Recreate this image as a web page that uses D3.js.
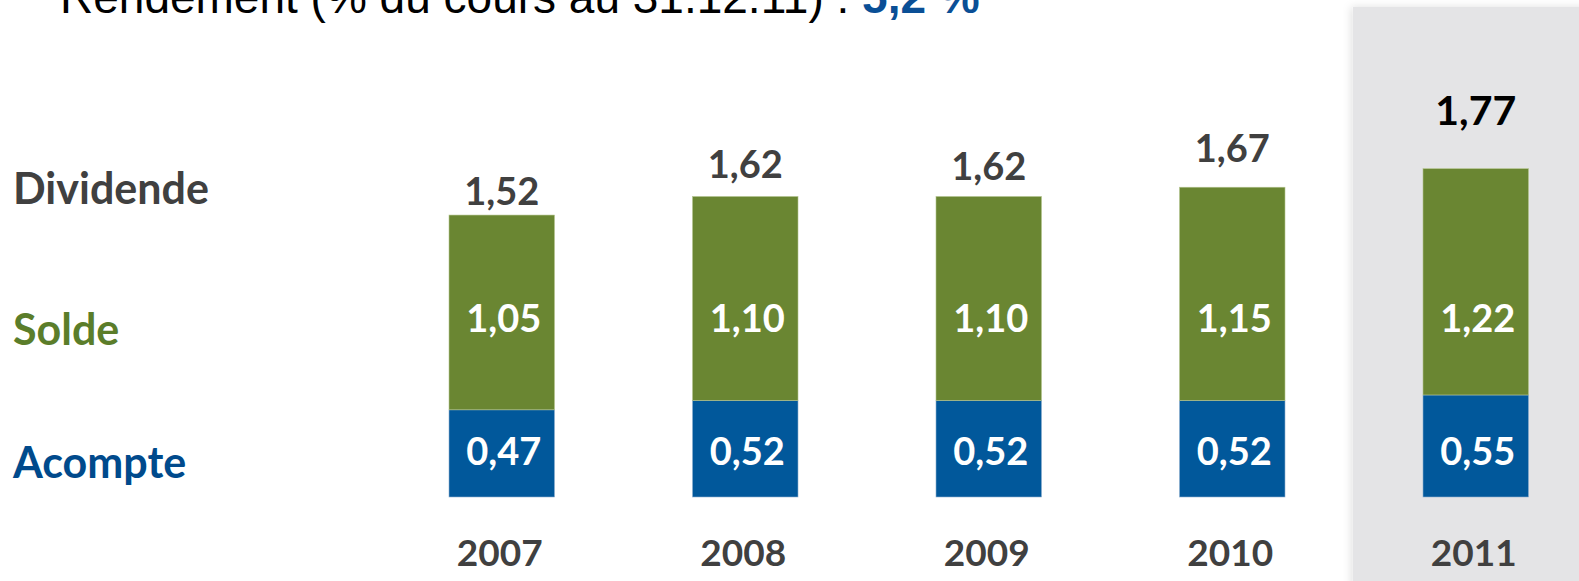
<!DOCTYPE html>
<html><head><meta charset="utf-8">
<script src="https://cdn.jsdelivr.net/npm/d3@7"></script>
<style>html,body{margin:0;padding:0;background:#fff;overflow:hidden}</style>
</head><body>
<svg id="c" width="1579" height="581"></svg>
<script>
// ---- data ----
const years = ["2007","2008","2009","2010","2011"];
const acompte = [0.47, 0.52, 0.52, 0.52, 0.55];
const solde = [1.05, 1.10, 1.10, 1.15, 1.22];
const dividende = [1.52, 1.62, 1.62, 1.67, 1.77];
const seriesNames = ["Dividende", "Solde", "Acompte"];
const titleText = "Rendement (% du cours au 31.12.11) : ";
const titleValue = "5,2 %";
const fmt = v => d3.format(".2f")(v).replace(".", ",");

// ---- layout / style ----
const W = 1579, H = 581;
const baseY = 497;
const GREEN = "#6a8632", BLUE = "#01589b", GRAY = "#404040";
const FONT = "Lato, 'Open Sans', sans-serif";
const totalGap = [10, 18, 16, 25, 44];

const svg = d3.select("#c");
const defs = svg.append("defs");
const f = defs.append("filter").attr("id","sh").attr("x","-10%").attr("y","-10%").attr("width","120%").attr("height","120%");
f.append("feDropShadow").attr("dx",-2).attr("dy",0).attr("stdDeviation",4).attr("flood-color","#000").attr("flood-opacity",0.12);

const x = d3.scaleBand().domain(years).range([449, 1528.5]).paddingInner(0.5667).paddingOuter(0);
const y = d3.scaleLinear().domain([0, 2]).range([baseY, baseY - 371]);

// highlight panel for last year
svg.append("rect").attr("x", x(years[4]) - 70).attr("y", 7).attr("width", 300).attr("height", H)
  .attr("fill", "#e4e4e6").attr("filter","url(#sh)");

// title (partially cut off at the top, as in the source)
const t = svg.append("text").attr("x", 60).attr("y", 13).attr("font-family","'Liberation Sans', Arial, sans-serif")
  .attr("font-size", 46).attr("fill", "#000");
t.append("tspan").text(titleText);
t.append("tspan").attr("fill","#0a4f96").attr("font-weight","bold").text(titleValue);

const data = years.map((yr,i)=>({yr, a:acompte[i], s:solde[i], d:dividende[i], i}));
const bw = x.bandwidth();

const g = svg.append("g");
// blue segments
g.selectAll("rect.a").data(data).join("rect").attr("class","a")
  .attr("x", d=>x(d.yr)).attr("width", bw)
  .attr("y", d=>y(d.a)).attr("height", d=>y(0)-y(d.a))
  .attr("fill", BLUE).attr("stroke","#8fb0cf").attr("stroke-width",0.6);
// green segments
g.selectAll("rect.s").data(data).join("rect").attr("class","s")
  .attr("x", d=>x(d.yr)).attr("width", bw)
  .attr("y", d=>y(d.a + d.s)).attr("height", d=>y(d.a)-y(d.a+d.s))
  .attr("fill", GREEN).attr("stroke","#b5c590").attr("stroke-width",0.6);

// inner labels
g.selectAll("text.s").data(data).join("text")
  .attr("x", d=>x(d.yr)+bw/2+2).attr("y", 332).attr("text-anchor","middle")
  .attr("font-family", FONT).attr("font-weight","bold").attr("font-size", 38).attr("fill","#fff")
  .text(d=>fmt(d.s));
g.selectAll("text.a").data(data).join("text")
  .attr("x", d=>x(d.yr)+bw/2+2).attr("y", 465).attr("text-anchor","middle")
  .attr("font-family", FONT).attr("font-weight","bold").attr("font-size", 38).attr("fill","#fff")
  .text(d=>fmt(d.a));

// totals
g.selectAll("text.d").data(data).join("text")
  .attr("x", d=>x(d.yr)+bw/2).attr("y", d=>y(d.d) - totalGap[d.i]).attr("text-anchor","middle")
  .attr("font-family", FONT).attr("font-weight","bold")
  .attr("font-size", d=> d.i===4 ? 41 : 38).attr("fill", d=> d.i===4 ? "#000" : GRAY)
  .text(d=>fmt(d.d));

// year axis labels
g.selectAll("text.yr").data(data).join("text")
  .attr("x", d=>x(d.yr)+bw/2-2).attr("y", 566).attr("text-anchor","middle")
  .attr("font-family", FONT).attr("font-weight","bold").attr("font-size", 37).attr("fill", GRAY)
  .text(d=>d.yr);

// row labels
const rowY = [204, 345, 478];
const rowC = [GRAY, "#5b7d2a", "#004a8c"];
svg.selectAll("text.row").data(seriesNames).join("text")
  .attr("x", 13).attr("y", (d,i)=>rowY[i])
  .attr("font-family", FONT).attr("font-weight","bold").attr("font-size", 43)
  .attr("fill", (d,i)=>rowC[i]).text(d=>d);
</script>
</body></html>
